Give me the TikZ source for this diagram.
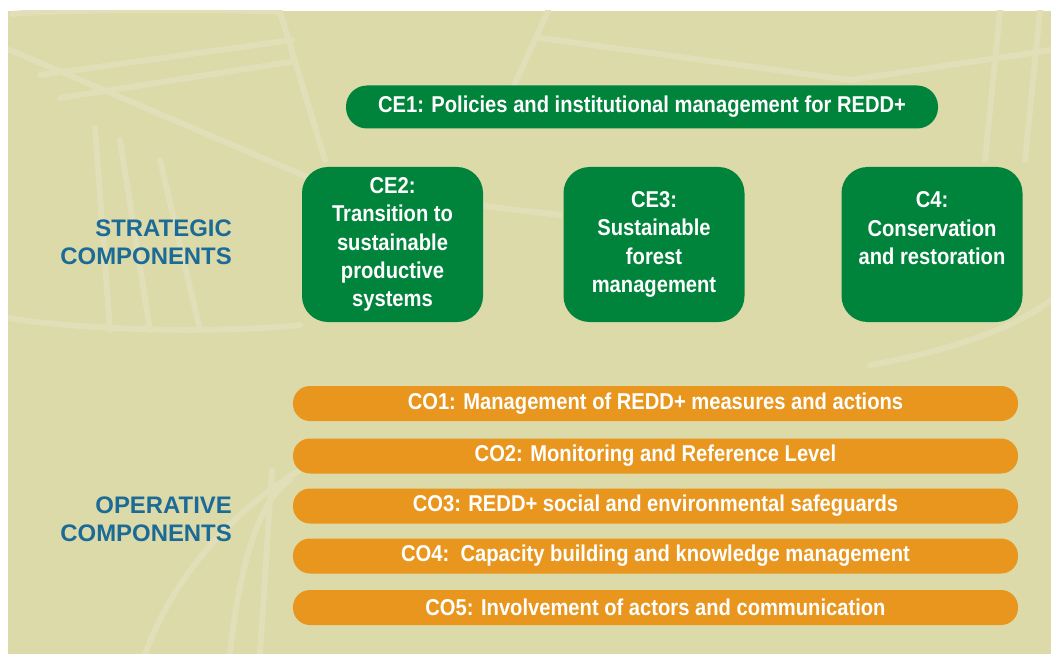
\documentclass[tikz,border=0pt]{standalone}
\usepackage{fontspec}
\setmainfont{Liberation Sans}[FakeStretch=0.88]
\newfontfamily\headfont{Liberation Sans}
\usetikzlibrary{positioning}
\definecolor{ReddBack}{HTML}{DCDAA9}
\definecolor{ReddLeaf}{HTML}{E0DFB7}
\definecolor{ReddGreen}{HTML}{00843C}
\definecolor{ReddOrange}{HTML}{E8961E}
\definecolor{ReddBlue}{HTML}{1B6B96}

\tikzset{
  leaf/.style={draw=ReddLeaf, line width=6bp, line cap=round, line join=round},
  pill/.style={rounded corners=21bp, fill=ReddGreen, text=white, minimum width=592bp,
    minimum height=43bp, font=\fontsize{23}{28.5}\selectfont\bfseries},
  greenbox/.style={rounded corners=26bp, fill=ReddGreen, minimum width=181bp, minimum height=155bp},
  greentext/.style={text=white, align=center, inner sep=0pt, font=\fontsize{23}{28.5}\selectfont\bfseries},
  bar/.style={rounded corners=17bp, fill=ReddOrange, text=white, minimum width=725bp,
    minimum height=35bp, font=\fontsize{23}{26}\selectfont\bfseries},
  side/.style={text=ReddBlue, align=right, anchor=east, inner sep=0pt,
    font=\headfont\fontsize{24}{28.5}\selectfont\bfseries}
}

\begin{document}
\begin{tikzpicture}[x=1bp,y=-1bp]
  \useasboundingbox (0,0) rectangle (1051,654);
  % Background
  \fill[ReddBack] (8,11) rectangle (1051,654);

  % Pale leaf strokes
  \begin{scope}
    \clip (8,11) rectangle (1051,654);
    \draw[leaf] (10,50) -- (333,188) -- (560,215);
    \draw[leaf] (40,75) -- (292,40);
    \draw[leaf] (60,98) -- (290,62);
    \draw[leaf] (12,14) .. controls (60,10) and (200,8) .. (280,12) -- (325,160);
    \draw[leaf] (95,128) -- (110,330);
    \draw[leaf] (120,140) -- (150,330);
    \draw[leaf] (160,160) -- (200,330);
    \draw[leaf] (8,318) .. controls (120,335) and (260,330) .. (300,325);
    \draw[leaf] (548,11) -- (512,90);
    \draw[leaf] (540,38) -- (850,80) -- (1051,50);
    \draw[leaf] (1000,11) -- (985,160);
    \draw[leaf] (1040,11) -- (1025,160);
    \draw[leaf] (1051,300) .. controls (1000,340) and (900,360) .. (870,365);
    \draw[leaf] (145,654) .. controls (180,560) and (250,500) .. (300,470);
    \draw[leaf] (230,654) .. controls (240,560) and (260,500) .. (290,480);
    \draw[leaf] (260,654) -- (272,470);
  \end{scope}

  % Strategic components
  \node[pill] (ce1) at (642,107) {CE1: Policies and institutional management for REDD+};

  \node[greenbox] (ce2) at (392.5,244.5) {};
  \node[greenbox] (ce3) at (654,244.5) {};
  \node[greenbox] (c4) at (932,244.5) {};

  \node[greentext] (ce2text) at (ce2.center) {CE2:\\Transition to\\sustainable\\productive\\systems};
  \node[greentext] (ce3text) at (ce3.center) {CE3:\\Sustainable\\forest\\management};
  \node[greentext] (c4text) at ([yshift=16bp]c4.center) {C4:\\Conservation\\and restoration};

  \node[side] (strategic) at (232,242.5) {STRATEGIC\\COMPONENTS};

  % Operative components
  \node[bar] (co1) at (655.5,403.5) {CO1: Management of REDD+ measures and actions};
  \node[bar] (co2) at (655.5,456) {CO2: Monitoring and Reference Level};
  \node[bar] (co3) at (655.5,506) {CO3: REDD+ social and environmental safeguards};
  \node[bar] (co4) at (655.5,556) {CO4:\ \ Capacity building and knowledge management};
  \node[bar] (co5) at (655.5,607.5) {CO5: Involvement of actors and communication};

  \node[side] (operative) at (232,519) {OPERATIVE\\COMPONENTS};
\end{tikzpicture}
\end{document}
